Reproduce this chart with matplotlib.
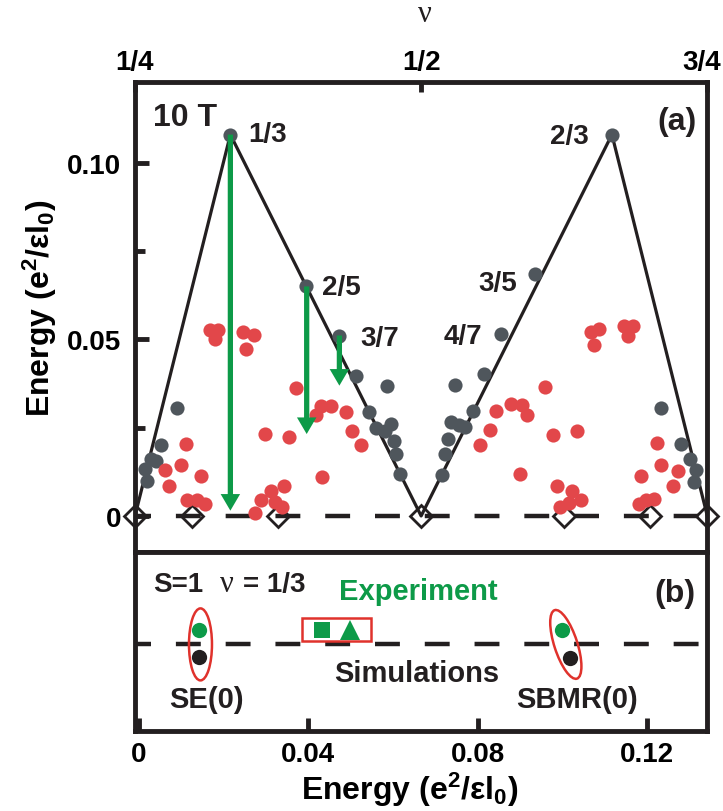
import numpy as np
import matplotlib
matplotlib.use("Agg")
import matplotlib.pyplot as plt
from matplotlib.patches import Ellipse, Rectangle
from matplotlib.transforms import ScaledTranslation

plt.rcParams['font.family'] = ['Liberation Sans', 'DejaVu Sans']
plt.rcParams['font.weight'] = 'bold'
plt.rcParams['axes.labelweight'] = 'bold'
plt.rcParams['mathtext.fontset'] = 'custom'
plt.rcParams['mathtext.rm'] = 'Liberation Sans:bold'
plt.rcParams['mathtext.bf'] = 'Liberation Sans:bold'
plt.rcParams['mathtext.it'] = 'Liberation Sans:bold'
plt.rcParams['mathtext.default'] = 'rm'

# ---- data: panel (a), x = filling factor nu, y = energy ----
gray_nu = [0.2864, 0.2727, 0.2637, 0.2587, 0.2602, 0.2683,
           1/3, 0.3998, 0.4283, 0.4434, 0.4702, 0.4542, 0.4609, 0.4740,
           0.4681, 0.4760, 0.4783, 0.4812,
           0.5185, 0.5205, 0.5234, 0.5330, 0.5380, 0.5263, 0.5452, 0.5292,
           0.5545, 0.5694, 0.5999, 2/3,
           0.7096, 0.7270, 0.7352, 0.7401, 0.7387]
gray_E = [0.0306, 0.0200, 0.0162, 0.0134, 0.0100, 0.0157,
          0.108, 0.0650, 0.0511, 0.0396, 0.0368, 0.0295, 0.0250, 0.0261,
          0.0242, 0.0212, 0.0176, 0.0119,
          0.0116, 0.0176, 0.0217, 0.0259, 0.0252, 0.0266, 0.0297, 0.0370,
          0.0403, 0.0514, 0.0685, 0.108,
          0.0306, 0.0203, 0.0162, 0.0129, 0.0097]

red_nu = [0.2945, 0.2899, 0.2762, 0.2800, 0.3076, 0.2957, 0.3038, 0.3111,
          0.3154, 0.3227, 0.3198, 0.3445, 0.3538, 0.3474,
          0.3634, 0.3847, 0.3803, 0.3684, 0.3600, 0.3786, 0.3547, 0.3722,
          0.3911, 0.4085, 0.4129, 0.4210, 0.4347, 0.4399, 0.4478, 0.4137,
          0.6086, 0.5650, 0.5787, 0.5883, 0.5923, 0.5598, 0.5516, 0.6150,
          0.6363, 0.5860, 0.6188, 0.6316, 0.6398, 0.6296, 0.6209,
          0.6485, 0.6558, 0.6514, 0.6776, 0.6848, 0.6805,
          0.7058, 0.7096, 0.7241, 0.6921, 0.7197, 0.7037, 0.6965, 0.6907]
red_E = [0.0205, 0.0143, 0.0131, 0.0086, 0.0112, 0.0044, 0.0044, 0.0034,
         0.0527, 0.0527, 0.0501, 0.0522, 0.0512, 0.0474,
         0.0233, 0.0224, 0.0084, 0.0072, 0.0046, 0.0025, 0.0008, 0.0039,
         0.0363, 0.0287, 0.0311, 0.0312, 0.0295, 0.0242, 0.0200, 0.0110,
         0.0366, 0.0297, 0.0318, 0.0315, 0.0287, 0.0244, 0.0200, 0.0230,
         0.0240, 0.0119, 0.0086, 0.0072, 0.0044, 0.0037, 0.0025,
         0.0522, 0.0529, 0.0484, 0.0539, 0.0539, 0.0511,
         0.0207, 0.0143, 0.0127, 0.0112, 0.0084, 0.0048, 0.0044, 0.0034]

line_nu = [1/4, 1/3, 1/2, 2/3, 3/4]
line_E = [0, 0.108, 0, 0.108, 0]

diamond_nu = [1/4, 3/10, 3/8, 1/2, 5/8, 7/10, 3/4]

arrow_nu = [1/3, 2/5, 3/7]
arrow_from = [0.108, 0.065, 0.0511]
arrow_to = [0.0015, 0.0232, 0.0369]

frac_labels = ['1/3', '2/5', '3/7', '2/3', '3/5', '4/7']
frac_nu = [0.3487, 0.4133, 0.4466, 0.6466, 0.5837, 0.5532]
frac_E = [0.1082, 0.0649, 0.0504, 0.1076, 0.0660, 0.0510]
frac_ha = ['left', 'left', 'left', 'right', 'right', 'right']

# ---- data: panel (b), x = energy ----
sim_E = [0.01428, 0.1018]
exp_circle_E = [0.01428, 0.0998]
exp_square_E = 0.04316
exp_triangle_E = 0.04984
ellipse_E = [0.01456, 0.1008]
ellipse_tilt = [0, 18]

# ---- colours ----
BLACK = '#231f20'
GRAY = '#4f565c'
RED = '#e2474a'
GREEN = '#0d9a48'
ERED = '#e0322c'

fig = plt.figure(figsize=(7.23, 8.12), dpi=100)
ax_a = fig.add_axes([0.1867, 0.3190, 0.7916, 0.5788])
ax_b = fig.add_axes([0.1867, 0.0985, 0.7916, 0.2204])

for ax in (ax_a, ax_b):
    for sp in ax.spines.values():
        sp.set_linewidth(3.5)
        sp.set_color(BLACK)

# ---------- panel (a) ----------
ax_a.set_xlim(0.25, 0.75)
ax_a.set_ylim(-0.0102, 0.1229)

ax_a.plot(diamond_nu, np.zeros(len(diamond_nu)), 'D', ms=11, mfc='white',
          mec=BLACK, mew=2.0, clip_on=False, zorder=1)
ax_a.axhline(0, color=BLACK, lw=3.2, ls=(2, (5.6, 5.6)), zorder=2)
ax_a.plot(line_nu, line_E, color=BLACK, lw=2.3, zorder=2)
ax_a.plot(gray_nu, gray_E, 'o', ms=10.2, color=GRAY, mew=0, zorder=3)
ax_a.plot(red_nu, red_E, 'o', ms=10.2, color=RED, mew=0, zorder=3)

for x, y0, y1 in zip(arrow_nu, arrow_from, arrow_to):
    ax_a.arrow(x, y0, 0, y1 - y0, width=0.0046, head_width=0.017,
               head_length=0.0047, length_includes_head=True,
               color=GREEN, lw=0, zorder=5)

for lab, x, y, ha in zip(frac_labels, frac_nu, frac_E, frac_ha):
    ax_a.text(x, y, lab, ha=ha, va='center', fontsize=20, color=BLACK)

ax_a.text(0.2657, 0.113, '10 T', ha='left', va='center', fontsize=23, color=BLACK)
ax_a.text(0.741, 0.1119, '(a)', ha='right', va='center', fontsize=23, color=BLACK)

ax_a.xaxis.tick_top()
ax_a.set_xticks([0.25, 0.5, 0.75], ['1/4', '1/2', '3/4'])
ax_a.tick_params(axis='x', direction='in', length=7, width=3.5, pad=5,
                 labelsize=20, color=BLACK)
lbl = ax_a.get_xticklabels()[-1]
lbl.set_transform(lbl.get_transform() + ScaledTranslation(-6/100, 0, fig.dpi_scale_trans))

ax_a.set_yticks([0, 0.05, 0.10], ['0', '0.05', '0.10'])
ax_a.set_yticks([0.025, 0.075], minor=True)
ax_a.tick_params(axis='y', which='major', direction='in', length=10, width=3.5,
                 pad=10, labelsize=20, color=BLACK)
ax_a.tick_params(axis='y', which='minor', direction='in', length=7, width=3.5,
                 color=BLACK)
ax_a.set_ylabel(r'Energy (e$^{2}$/εl$_{0}$)', fontsize=23)
ax_a.yaxis.set_label_coords(-0.132, 0.52)

fig.text(425/723, 1 - 14/812, 'ν', ha='center', va='center', fontsize=22,
         family=['Liberation Serif', 'DejaVu Serif'], weight='normal', color=BLACK)

# ---------- panel (b) ----------
ax_b.set_xlim(-0.0009, 0.1342)
ax_b.set_ylim(0, 1)
ax_b.axhline(0.486, color=BLACK, lw=3.2, ls=(2, (5.6, 5.6)), zorder=2)

ax_b.plot(sim_E, [0.412, 0.408], 'o', ms=11, color=BLACK, mew=0, zorder=3)
ax_b.plot(exp_circle_E, [0.566, 0.566], 'o', ms=11, color=GREEN, mew=0, zorder=3)
ax_b.plot(exp_square_E, 0.566, 's', ms=12, color=GREEN, mew=0, zorder=3)
ax_b.plot(exp_triangle_E, 0.564, '^', ms=14, color=GREEN, mew=0, zorder=3)
ax_b.add_patch(Rectangle((0.0385, 0.503), 0.0163, 0.128, fill=False,
                         ec=ERED, lw=1.8, zorder=4))
for ex, tilt in zip(ellipse_E, ellipse_tilt):
    tr = fig.dpi_scale_trans + ScaledTranslation(ex, 0.484, ax_b.transData)
    ax_b.add_patch(Ellipse((0, 0), 0.23, 0.72, angle=tilt, fill=False,
                           ec=ERED, lw=1.8, transform=tr, zorder=4))

ax_b.text(0.00335, 0.782, 'S=1', ha='left', va='baseline', fontsize=20, color=BLACK)
ax_b.text(0.0192, 0.782, 'ν', ha='left', va='baseline', fontsize=22,
          family=['Liberation Serif', 'DejaVu Serif'], weight='normal', color=BLACK)
ax_b.text(0.0246, 0.782, '= 1/3', ha='left', va='baseline', fontsize=20, color=BLACK)
ax_b.text(0.0659, 0.737, 'Experiment', ha='center', va='baseline', fontsize=21, color=GREEN)
ax_b.text(0.0657, 0.281, 'Simulations', ha='center', va='baseline', fontsize=21, color=BLACK)
ax_b.text(0.0160, 0.134, 'SE(0)', ha='center', va='baseline', fontsize=21, color=BLACK)
ax_b.text(0.1035, 0.134, 'SBMR(0)', ha='center', va='baseline', fontsize=21, color=BLACK)
ax_b.text(0.1313, 0.728, '(b)', ha='right', va='baseline', fontsize=23, color=BLACK)

ax_b.set_xticks([0, 0.04, 0.08, 0.12], ['0', '0.04', '0.08', '0.12'])
ax_b.set_yticks([])
ax_b.tick_params(axis='x', direction='in', length=9.5, width=3.5, pad=7,
                 labelsize=20, color=BLACK)
ax_b.set_xlabel(r'Energy (e$^{2}$/εl$_{0}$)', fontsize=23)
ax_b.xaxis.set_label_coords(0.48, -0.215)

fig.savefig('out.png', dpi=100)
